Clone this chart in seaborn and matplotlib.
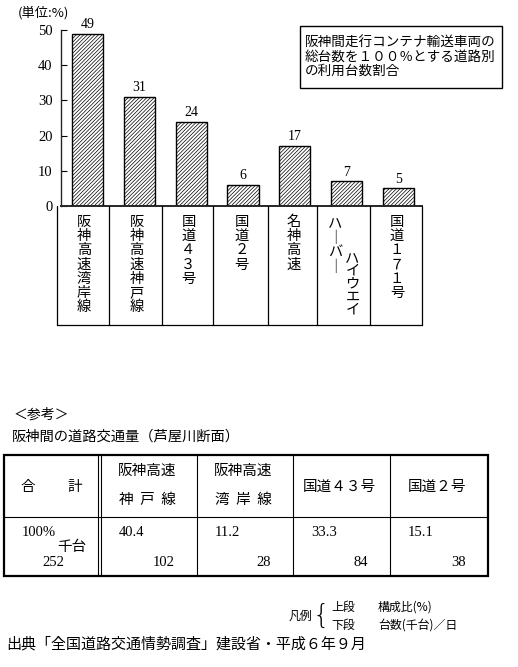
import numpy as np
import pandas as pd
import matplotlib
matplotlib.use('Agg')
import matplotlib.pyplot as plt
import seaborn as sns
from matplotlib.patches import Rectangle

# bar chart data (unit: %)
roads = ['阪神高速湾岸線', '阪神高速神戸線', '国道４３号', '国道２号',
         '名神高速', 'ハーバーハイウエイ', '国道１７１号']
shares = [49, 31, 24, 6, 17, 7, 5]
y_ticks = [0, 10, 20, 30, 40, 50]

note_lines = ['阪神間走行コンテナ輸送車両の',
              '総台数を１００％とする道路別',
              'の利用台数割合']

# reference table (Ashiya-gawa section)
ref_heads = [['阪神高速', '神  戸  線'], ['阪神高速', '湾  岸  線'],
             ['国道４３号'], ['国道２号']]
ref_pct = [40.4, 11.2, 33.3, 15.1]
ref_count = [102, 28, 84, 38]
total_pct = 100
total_count = 252

JP = ['Noto Sans CJK JP', 'DejaVu Sans']
NUM = ['Liberation Serif', 'DejaVu Serif']

sns.set_theme(style='ticks')
plt.rcParams['font.family'] = JP
plt.rcParams['hatch.linewidth'] = 0.5
plt.rcParams['text.color'] = 'black'

W, H = 518, 667
fig = plt.figure(figsize=(W / 100, H / 100), dpi=100)
fig.patch.set_facecolor('white')

# ---- bar chart ----
ax = fig.add_axes([61 / W, 1 - 206 / H, (422 - 61) / W, 176 / H])
df = pd.DataFrame({'road': roads, 'share': shares})
sns.barplot(data=df, x='road', y='share', color='white', saturation=1,
            edgecolor='black', linewidth=1.0, hatch='/' * 9, width=0.6,
            ax=ax)
ax.set_xlim(-0.51, 6.45)
ax.set_ylim(0, 50)
ax.set_yticks(y_ticks)
ax.set_xlabel('')
ax.set_ylabel('')
ax.spines['top'].set_visible(False)
ax.spines['right'].set_visible(False)
ax.spines['left'].set_linewidth(1.0)
ax.spines['bottom'].set_linewidth(1.4)
ax.tick_params(axis='y', direction='in', length=4, width=0.8, pad=6,
               labelsize=10.5, colors='black')
ax.tick_params(axis='x', direction='in', length=3, width=0.8,
               labelbottom=False, colors='black')
for lbl in ax.get_yticklabels():
    lbl.set_fontfamily(NUM)
ax.bar_label(ax.containers[0], labels=[str(v) for v in shares], padding=2,
             fontsize=10, family=NUM)

# ---- overlay in pixel coordinates for the text parts ----
ov = fig.add_axes([0, 0, 1, 1], zorder=5)
ov.set_xlim(0, W)
ov.set_ylim(H, 0)
ov.axis('off')

ov.text(18, 13, '(単位:%)', fontsize=9.5, va='center', ha='left')

ov.add_patch(Rectangle((300, 26), 202, 62, fill=False, lw=1.0, ec='black'))
for i, line in enumerate(note_lines):
    ov.text(305, 43 + i * 14, line, fontsize=9.8, va='center', ha='left')

# category label boxes under the axis
col_edges = [57, 109, 162, 213, 268, 317, 370, 422]
box_top, box_bot = 206, 325
for x in col_edges:
    ov.plot([x, x], [box_top, box_bot], color='black', lw=0.9)
ov.plot([col_edges[0], col_edges[-1]], [box_bot, box_bot], color='black', lw=0.9)

split_cols = {'ハーバーハイウエイ': [('ハーバー', -9, 223, 14.5),
                                  ('ハイウエイ', 8, 258, 12.8)]}
for i, road in enumerate(roads):
    xc = (col_edges[i] + col_edges[i + 1]) / 2 + 1
    cols = split_cols.get(road, [(road, 0, 222, 14.2)])
    for text, dx, y0, pitch in cols:
        for k, ch in enumerate(text):
            ch = '｜' if ch == 'ー' else ch
            ov.text(xc + dx, y0 + k * pitch, ch, fontsize=10.3,
                    ha='center', va='center')

# ---- reference section ----
ov.text(14, 415, '＜参考＞', fontsize=10, va='center', ha='left')
ov.text(12, 436, '阪神間の道路交通量（芦屋川断面）', fontsize=10.3,
        va='center', ha='left')

t_left, t_right = 4, 488
t_top, t_mid, t_bot = 455, 517, 576
tcol = [101, 197, 293, 390, 488]
ov.add_patch(Rectangle((t_left, t_top), t_right - t_left, t_bot - t_top,
                       fill=False, lw=1.6, ec='black'))
ov.plot([t_left, t_right], [t_mid, t_mid], color='black', lw=0.8)
ov.plot([98, 98], [t_top, t_bot], color='black', lw=0.8)
for x in tcol[:-1]:
    ov.plot([x, x], [t_top, t_bot], color='black', lw=0.8)

ov.text(28, 487, '合', fontsize=10.5, ha='center', va='center')
ov.text(75, 487, '計', fontsize=10.5, ha='center', va='center')
ov.text(22, 532, f'{total_pct}%', fontsize=10.5, family=NUM, ha='left', va='center')
ov.text(86, 547, '千台', fontsize=10.5, ha='right', va='center')
ov.text(64, 563, str(total_count), fontsize=10.5, family=NUM, ha='right', va='center')

for j, head in enumerate(ref_heads):
    xl, xr = tcol[j], tcol[j + 1]
    xc = (xl + xr) / 2 - 2
    if len(head) == 2:
        ov.text(xc, 471, head[0], fontsize=10.5, ha='center', va='center')
        ov.text(xc, 500, head[1], fontsize=10.5, ha='center', va='center')
    else:
        ov.text(xc, 487, head[0], fontsize=10.5, ha='center', va='center')
    ov.text(xl + 18, 532, f'{ref_pct[j]:.1f}', fontsize=10.5, family=NUM,
            ha='left', va='center')
    ov.text(xr - 22, 563, str(ref_count[j]), fontsize=10.5, family=NUM,
            ha='right', va='center')

# legend note
ov.text(312, 616, '凡例', fontsize=8.6, ha='right', va='center')
ov.text(321, 615, '{', fontsize=19, family='DejaVu Sans', fontweight='light',
        ha='center', va='center')
ov.text(331, 607, '上段', fontsize=8.6, ha='left', va='center')
ov.text(378, 607, '構成比(%)', fontsize=8.6, ha='left', va='center')
ov.text(331, 625, '下段', fontsize=8.6, ha='left', va='center')
ov.text(378, 625, '台数(千台)／日', fontsize=8.6, ha='left', va='center')

ov.text(6, 644, '出典「全国道路交通情勢調査」建設省・平成６年９月',
        fontsize=10.8, ha='left', va='center')

fig.savefig('out.png', dpi=100, facecolor='white')
